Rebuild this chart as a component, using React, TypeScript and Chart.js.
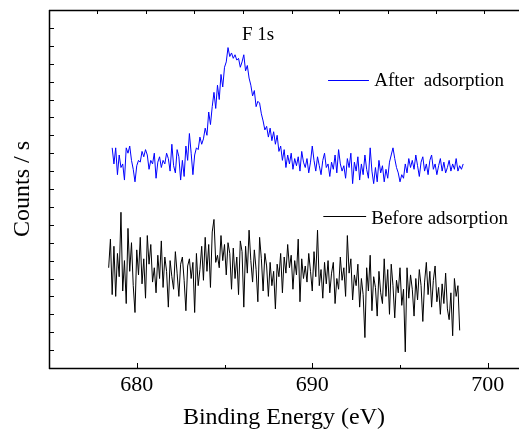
import React, { useEffect, useRef } from 'react';
import { Chart, registerables } from 'chart.js';

Chart.register(...registerables);

// ---- data ----
const AFTER_START_EV = 678.6;
const BEFORE_START_EV = 678.4;
const STEP_EV = 0.1;

const X_TICKS = [680, 690, 700];
const X_MINOR_TICKS = [685, 695];
const TOP_TICKS = [677.72, 680.51, 683.25, 686.04, 688.83, 691.51, 694.3, 697.04, 699.77];
const X_MIN = 675;
const X_MAX = 701.78;
const Y_MIN = 0;
const Y_MAX = 20;
const Y_TICK_STEP = 1;

const AFTER = [
  12.3, 11.4, 12.3, 10.8, 11.9, 11.2, 11.4, 10.5, 12.3, 12.0,
  12.4, 11.6, 11.1, 10.4, 11.3, 11.6, 11.5, 12.1, 11.8, 12.2,
  11.9, 11.1, 11.6, 11.4, 12.0, 10.6, 11.5, 11.8, 11.2, 11.6,
  11.4, 12.0, 11.7, 11.0, 12.5, 11.3, 10.9, 12.2, 11.8, 10.5,
  11.6, 10.7, 12.4, 11.6, 13.1, 12.0, 10.8, 11.9, 12.3, 12.2,
  12.9, 12.5, 12.8, 13.4, 13.0, 14.3, 13.6, 14.6, 15.4, 14.5,
  15.8, 15.0, 16.4, 15.7, 16.8, 17.1, 17.9, 17.4, 17.6, 17.3,
  17.5, 17.2, 17.3, 16.8, 17.1, 17.5, 16.6, 16.9, 16.2, 15.8,
  15.2, 15.5, 14.6, 14.9, 14.8, 14.2, 13.8, 13.3, 13.5, 12.9,
  13.4, 12.7, 13.2, 12.5, 13.0, 12.1, 12.4, 11.6, 12.2, 11.2,
  11.9, 11.4, 12.0, 11.1, 11.7, 11.3, 11.8, 11.0, 12.1, 11.5,
  11.2, 11.7, 10.9, 11.5, 12.4, 11.6, 11.0, 11.8, 11.3, 10.8,
  11.6, 12.0, 11.2, 11.4, 10.7, 11.5, 11.1, 11.9, 10.9, 12.2,
  11.4, 11.0, 11.3, 10.6, 11.7, 11.2, 12.0, 10.3, 11.5, 11.0,
  11.8, 10.5, 11.4, 10.8, 11.9, 11.1, 10.6, 12.3, 11.0, 10.3,
  11.2, 10.4, 11.6, 10.9, 11.3, 10.4, 11.1, 10.6, 11.5, 11.9,
  12.3, 11.7, 11.2, 10.9, 10.4, 10.8, 10.6, 11.4, 10.9, 11.7,
  11.2, 11.6, 11.1, 11.9, 11.3, 10.7, 11.5, 11.8, 11.0, 11.4,
  10.8, 11.6, 11.9, 11.1, 11.4, 10.8, 11.3, 11.7, 11.0, 11.5,
  10.9, 11.2, 11.6, 11.0, 11.4, 11.1, 11.7, 11.0, 11.3, 11.1,
  11.4,
];

const BEFORE = [
  5.6, 7.2, 4.1, 6.8, 4.0, 6.4, 5.1, 8.7, 4.3, 6.0,
  3.6, 7.8, 5.4, 7.0, 4.6, 3.1, 6.6, 5.2, 7.3, 4.7,
  6.1, 3.9, 7.4, 5.8, 6.9, 4.8, 5.6, 4.2, 6.3, 5.0,
  7.1, 4.5, 6.2, 5.4, 3.4, 6.0, 5.1, 4.4, 6.5, 5.3,
  4.0, 5.8, 6.2, 4.9, 3.2, 5.7, 6.1, 5.0, 5.9, 3.1,
  6.4, 4.6, 5.5, 6.8, 4.9, 7.3, 5.4, 6.9, 4.5, 7.6,
  8.3, 5.9, 6.3, 5.6, 7.4, 6.0, 6.9, 5.2, 7.0, 6.4,
  4.4, 6.7, 5.0, 6.2, 4.1, 7.1, 6.5, 3.4, 6.8, 5.3,
  7.7, 6.0, 4.8, 6.6, 5.5, 3.7, 7.3, 6.1, 4.3, 6.4,
  5.7, 4.0, 5.9, 4.6, 5.4, 3.3, 5.8, 5.1, 6.4, 4.2,
  6.2, 5.3, 6.9, 5.6, 6.3, 4.4, 6.0, 5.2, 7.2, 3.7,
  6.1, 5.0, 5.7, 4.8, 6.4, 5.4, 4.3, 6.5, 5.1, 7.7,
  4.6, 5.5, 3.9, 5.9, 4.7, 6.0, 4.2, 5.3, 5.9, 3.6,
  5.0, 4.4, 6.2, 4.9, 5.6, 4.0, 7.4, 5.3, 6.1, 3.8,
  5.2, 4.6, 5.8, 3.4, 5.0, 4.1, 1.7, 5.6, 4.3, 6.3,
  3.2, 5.1, 4.5, 2.9, 5.4, 4.2, 3.6, 6.1, 4.0, 5.5,
  3.0, 5.8, 4.6, 2.8, 4.9, 4.2, 5.6, 3.5, 4.4, 0.9,
  5.6, 3.9, 5.2, 4.4, 2.9, 5.0, 3.8, 5.5, 4.6, 2.6,
  4.8, 5.9, 4.1, 5.4, 3.4, 4.9, 5.7, 3.7, 4.5, 3.0,
  4.7, 3.6, 5.3, 3.3, 2.7, 4.2, 1.8, 5.0, 4.0, 4.6,
  2.1,
];

const AFTER_LABEL = 'After  adsorption';
const BEFORE_LABEL = 'Before adsorption';
const PEAK_LABEL = 'F 1s';
const X_TITLE = 'Binding Energy (eV)';
const Y_TITLE = 'Counts / s';

const AFTER_COLOR = '#0000ff';
const BEFORE_COLOR = '#000000';
const FONT = '"Liberation Serif", "Times New Roman", serif';

const toPoints = (vals: number[], start: number) =>
  vals.map((v, i) => ({ x: Math.round((start + i * STEP_EV) * 100) / 100, y: v }));

const decorPlugin = {
  id: 'decor',
  afterDraw(chart: any) {
    const { ctx, chartArea, scales } = chart;
    const { left, right, top, bottom } = chartArea;
    const xs = scales.x;
    const ys = scales.y;
    ctx.save();
    ctx.strokeStyle = '#000';
    ctx.lineWidth = 1.5;
    ctx.beginPath();
    ctx.moveTo(left + 0.5, top);
    ctx.lineTo(left + 0.5, bottom + 1);
    ctx.moveTo(left, bottom + 0.5);
    ctx.lineTo(right, bottom + 0.5);
    ctx.moveTo(left, top + 0.5);
    ctx.lineTo(right, top + 0.5);
    ctx.stroke();

    ctx.lineWidth = 1;
    ctx.beginPath();
    for (let v = Y_MIN + Y_TICK_STEP; v < Y_MAX; v += Y_TICK_STEP) {
      const py = Math.round(ys.getPixelForValue(v)) + 0.5;
      ctx.moveTo(left, py);
      ctx.lineTo(left + 5, py);
    }
    X_TICKS.forEach((v) => {
      const px = Math.round(xs.getPixelForValue(v)) + 0.5;
      ctx.moveTo(px, bottom);
      ctx.lineTo(px, bottom - 5);
    });
    X_MINOR_TICKS.forEach((v) => {
      const px = Math.round(xs.getPixelForValue(v)) + 0.5;
      ctx.moveTo(px, bottom);
      ctx.lineTo(px, bottom - 3);
    });
    TOP_TICKS.forEach((v) => {
      const px = Math.round(xs.getPixelForValue(v)) + 0.5;
      ctx.moveTo(px, top);
      ctx.lineTo(px, top + 4);
    });
    ctx.stroke();

    // annotations and legend
    ctx.font = `19px ${FONT}`;
    ctx.fillStyle = '#000';
    ctx.textBaseline = 'alphabetic';
    ctx.textAlign = 'left';
    ctx.fillText(PEAK_LABEL, xs.getPixelForValue(686.0), ys.getPixelForValue(18.32));

    ctx.lineWidth = 1;
    ctx.strokeStyle = AFTER_COLOR;
    ctx.beginPath();
    const ay = Math.round(ys.getPixelForValue(16.09)) + 0.5;
    ctx.moveTo(xs.getPixelForValue(690.9), ay);
    ctx.lineTo(xs.getPixelForValue(693.23), ay);
    ctx.stroke();
    ctx.fillText(AFTER_LABEL, xs.getPixelForValue(693.53), ys.getPixelForValue(15.75));

    ctx.strokeStyle = BEFORE_COLOR;
    ctx.beginPath();
    const by = Math.round(ys.getPixelForValue(8.51)) + 0.5;
    ctx.moveTo(xs.getPixelForValue(690.63), by);
    ctx.lineTo(xs.getPixelForValue(693.07), by);
    ctx.stroke();
    ctx.fillText(BEFORE_LABEL, xs.getPixelForValue(693.36), ys.getPixelForValue(8.04));
    ctx.restore();
  },
};

export default function App() {
  const ref = useRef<HTMLCanvasElement | null>(null);
  useEffect(() => {
    if (!ref.current) return;
    const chart = new Chart(ref.current, {
      type: 'line',
      data: {
        datasets: [
          {
            label: AFTER_LABEL,
            data: toPoints(AFTER, AFTER_START_EV),
            borderColor: AFTER_COLOR,
            borderWidth: 1,
            pointRadius: 0,
            tension: 0,
            fill: false,
          },
          {
            label: BEFORE_LABEL,
            data: toPoints(BEFORE, BEFORE_START_EV),
            borderColor: BEFORE_COLOR,
            borderWidth: 1,
            pointRadius: 0,
            tension: 0,
            fill: false,
          },
        ],
      },
      options: {
        responsive: false,
        animation: false,
        layout: { padding: { left: 0, right: 0, top: 10, bottom: 0 }, autoPadding: false },
        plugins: { legend: { display: false }, tooltip: { enabled: false } },
        scales: {
          x: {
            type: 'linear',
            min: X_MIN,
            max: X_MAX,
            afterBuildTicks: (s: any) => {
              s.ticks = X_TICKS.map((v) => ({ value: v }));
            },
            afterFit: (s: any) => {
              s.height = 62;
            },
            grid: { display: false },
            border: { display: false },
            ticks: {
              color: '#000',
              padding: -4,
              maxRotation: 0,
              font: { family: FONT, size: 22 },
              callback: (v: any) => String(v),
            },
            title: {
              display: true,
              text: X_TITLE,
              color: '#000',
              font: { family: FONT, size: 24, lineHeight: 1 },
              padding: { top: 0, bottom: 0 },
            },
          },
          y: {
            type: 'linear',
            min: Y_MIN,
            max: Y_MAX,
            afterFit: (s: any) => {
              s.width = 49;
            },
            grid: { display: false },
            border: { display: false },
            ticks: { display: false },
            title: {
              display: true,
              text: Y_TITLE,
              color: '#000',
              font: { family: FONT, size: 24, lineHeight: 1 },
              padding: { top: 11, bottom: 0 },
            },
          },
        },
      },
      plugins: [decorPlugin],
    });
    return () => chart.destroy();
  }, []);
  return (
    <div style={{ position: 'fixed', left: 0, top: 0, width: 519, height: 430, background: '#fff' }}>
      <canvas ref={ref} width={519} height={430} style={{ display: 'block' }} />
    </div>
  );
}
